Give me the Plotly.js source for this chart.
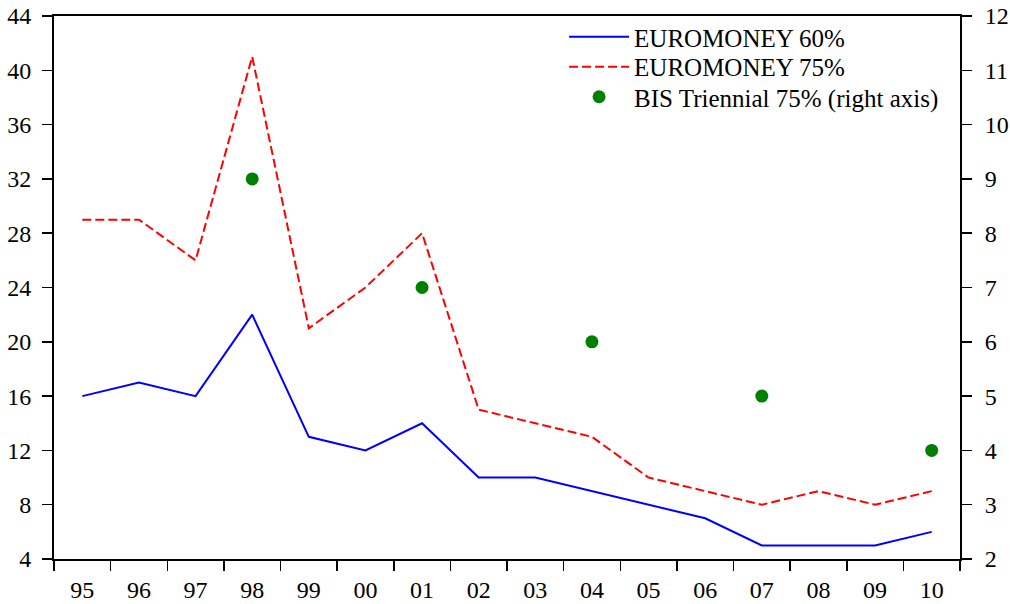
<!DOCTYPE html>
<html>
<head>
<meta charset="utf-8">
<script src="https://cdn.plot.ly/plotly-3.0.1.min.js"></script>
<style>html,body{margin:0;padding:0;background:#fff;}#chart{width:1010px;height:604px;}</style>
</head>
<body>
<div id="chart"></div>
<script>
var years = ['95','96','97','98','99','00','01','02','03','04','05','06','07','08','09','10'];
var euromoney60 = [16,17,16,22,13,12,14,10,10,9,8,7,5,5,5,6];
var euromoney75 = [29,29,26,41,21,24,28,15,14,13,10,9,8,9,8,9];
var bisYears = ['98','01','04','07','10'];
var bis75 = [9,7,6,5,4];

var traces = [
  {x: years, y: euromoney60, type: 'scatter', mode: 'lines', name: 'EUROMONEY 60%',
   line: {color: '#0000ff', width: 2}, legend: 'legend'},
  {x: years, y: euromoney75, type: 'scatter', mode: 'lines', name: 'EUROMONEY 75%',
   line: {color: '#ff0000', width: 2, dash: '9px,4px'}, legend: 'legend2'},
  {x: bisYears, y: bis75, type: 'scatter', mode: 'markers', name: 'BIS Triennial 75% (right axis)',
   yaxis: 'y2', marker: {color: '#008000', size: 13}, legend: 'legend3'}
];

var font = {family: '"Liberation Serif", "Times New Roman", serif', size: 24, color: '#000'};
var legFont = {family: '"Liberation Serif", "Times New Roman", serif', size: 25, color: '#000'};

function leg(y) {
  return {x: 0.563, y: y, xanchor: 'left', yanchor: 'middle', bgcolor: 'rgba(0,0,0,0)',
          font: legFont, itemwidth: 60, borderwidth: 0};
}

var axisCommon = {ticks: 'outside', ticklen: 10, tickwidth: 1.5, tickcolor: '#000',
  showline: true, linecolor: '#000', linewidth: 2, showgrid: false, zeroline: false, tickfont: font};

var layout = {
  width: 1010, height: 604,
  margin: {l: 54, r: 50, t: 16, b: 45},
  paper_bgcolor: '#fff', plot_bgcolor: '#fff',
  font: font,
  showlegend: true,
  legend: leg(0.9613),
  legend2: leg(0.9061),
  legend3: leg(0.8508),
  xaxis: Object.assign({}, axisCommon, {type: 'category', categoryorder: 'array', categoryarray: years,
          range: [-0.5, 15.5], tickson: 'boundaries', mirror: true, ticklabelstandoff: 8}),
  yaxis: Object.assign({}, axisCommon, {range: [4, 44], dtick: 4, tick0: 4, ticklabelstandoff: 6}),
  yaxis2: Object.assign({}, axisCommon, {range: [2, 12], dtick: 1, tick0: 2, overlaying: 'y', side: 'right',
          ticklabelstandoff: 8})
};

Plotly.newPlot('chart', traces, layout, {displayModeBar: false, staticPlot: true});
</script>
</body>
</html>
